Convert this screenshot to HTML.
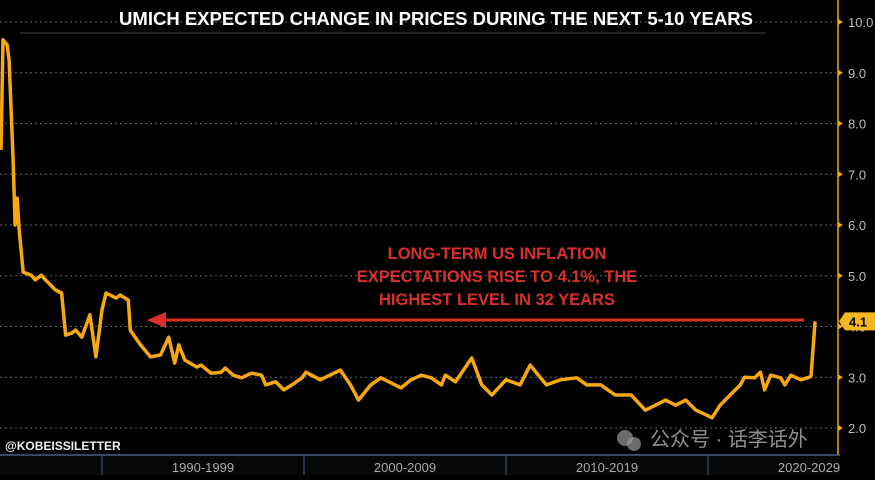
<!DOCTYPE html>
<html><head><meta charset="utf-8"><style>
body{margin:0;background:#000;width:875px;height:475px;overflow:hidden;font-family:"Liberation Sans","Noto Sans CJK SC",sans-serif}
</style></head><body>
<svg id="chart" width="875" height="475" xmlns="http://www.w3.org/2000/svg">
<rect width="875" height="475" fill="#000"/>
<g id="grid"></g>
<g id="yaxis"></g>
<g id="xaxis"></g>
<path id="series" fill="none" stroke="#f5a80f" stroke-width="3.5" stroke-linejoin="round"/>
<line x1="20" y1="33" x2="765" y2="33" stroke="#222" stroke-width="2"/>
<text x="436" y="25" fill="#fff" font-size="18.5" font-weight="bold" text-anchor="middle">UMICH EXPECTED CHANGE IN PRICES DURING THE NEXT 5-10 YEARS</text>
<g fill="#d9302c" font-size="16.5" font-weight="bold" text-anchor="middle">
<text x="497" y="259">LONG-TERM US INFLATION</text>
<text x="497" y="282">EXPECTATIONS RISE TO 4.1%, THE</text>
<text x="497" y="305">HIGHEST LEVEL IN 32 YEARS</text>
</g>
<line x1="160" y1="320" x2="804" y2="320" stroke="#d9302c" stroke-width="3"/>
<polygon points="147,320 166,312 166,328" fill="#d9302c"/>
<text x="5" y="450" fill="#eee" font-size="12" font-weight="bold">@KOBEISSILETTER</text>
<text x="650" y="446" fill="#aaa" font-size="20" opacity="0.85">公众号 · 话李话外</text>
<circle cx="625" cy="438" r="8" fill="#999" opacity="0.7"/><circle cx="634" cy="444" r="7" fill="#999" opacity="0.7"/>
</svg>
<script>
const years=[1985.0,1985.1,1985.3,1985.4,1985.6,1985.7,1985.8,1985.9,1986.1,1986.5,1986.7,1987.0,1987.2,1987.7,1988.0,1988.2,1988.5,1988.7,1989.0,1989.4,1989.7,1990.0,1990.2,1990.7,1990.9,1991.3,1991.4,1991.9,1992.4,1992.9,1993.3,1993.6,1993.8,1994.1,1994.7,1994.9,1995.4,1995.9,1996.1,1996.5,1996.9,1997.4,1997.9,1998.1,1998.6,1999.0,1999.4,1999.9,2000.1,2000.8,2001.8,2002.3,2002.7,2003.3,2003.8,2004.3,2004.8,2005.3,2005.8,2006.3,2006.8,2007.0,2007.5,2008.3,2008.8,2009.3,2010.0,2010.7,2011.2,2012.0,2012.7,2013.5,2014.0,2014.7,2015.4,2016.2,2016.9,2017.4,2017.9,2018.4,2018.9,2019.4,2019.9,2020.2,2020.6,2021.1,2021.6,2021.8,2022.3,2022.6,2022.8,2023.1,2023.6,2023.8,2024.1,2024.6,2025.0,2025.1,2025.3];
const values=[7.48,9.65,9.55,9.25,7.28,6.0,6.53,5.9,5.07,5.01,4.92,5.01,4.92,4.72,4.66,3.83,3.87,3.93,3.79,4.23,3.40,4.33,4.66,4.56,4.62,4.52,3.93,3.64,3.40,3.44,3.79,3.28,3.64,3.34,3.20,3.24,3.08,3.10,3.18,3.04,2.99,3.08,3.04,2.85,2.91,2.75,2.85,2.99,3.10,2.95,3.14,2.85,2.55,2.85,2.99,2.89,2.79,2.95,3.04,2.99,2.85,3.04,2.91,3.38,2.85,2.65,2.95,2.85,3.24,2.85,2.95,2.99,2.85,2.85,2.65,2.65,2.35,2.45,2.55,2.45,2.55,2.35,2.26,2.20,2.45,2.65,2.85,3.00,2.99,3.10,2.75,3.04,2.99,2.85,3.04,2.95,3.00,3.02,4.1];
const yTicks=[2,3,4,5,6,7,8,9,10];
const decadeLabels=["1990-1999","2000-2009","2010-2019","2020-2029"];
const decadeStarts=[1990,2000,2010,2020];
const xs=y=>708+(y-2020)*20.2;
const ys=v=>428-(v-2)*50.75;
const NS="http://www.w3.org/2000/svg";
const grid=document.getElementById('grid'),ya=document.getElementById('yaxis'),xa=document.getElementById('xaxis');
function mk(tag,attrs,parent){const e=document.createElementNS(NS,tag);for(const k in attrs)e.setAttribute(k,attrs[k]);parent.appendChild(e);return e;}
yTicks.forEach(t=>{
 const g=mk('line',{x1:0,x2:836,y1:ys(t),y2:ys(t),stroke:'#666','stroke-dasharray':'2,3','stroke-width':1},grid);
 
 
 const tk=mk('polygon',{points:`838,${ys(t)-3} 843,${ys(t)} 838,${ys(t)+3}`,fill:'#f5a80f'},ya);
 
 
 const lb=mk('text',{x:848,y:ys(t)+5,fill:'#bbb','font-size':13},ya);
 lb.textContent=t.toFixed(1);
 
 
});
const ax=mk('line',{x1:838,x2:838,y1:0,y2:455,stroke:'#f5a80f','stroke-width':1.5},ya);


const band=mk('rect',{x:0,y:455,width:840,height:20,fill:'#050608'},xa);


const bl=mk('line',{x1:0,x2:840,y1:455,y2:455,stroke:'#4a5f80','stroke-width':1.5},xa);


decadeStarts.forEach((d,i)=>{
 const s=mk('line',{x1:xs(d),x2:xs(d),y1:455,y2:475,stroke:'#4a5f80'},xa);
 
 
 const l=mk('text',{x:xs(d+5),y:472,fill:'#aaa','font-size':13,'text-anchor':'middle'},xa);
 l.textContent=decadeLabels[i];
 
 
});
document.getElementById('series').setAttribute('d',years.map((y,i)=>(i?'L':'M')+xs(y).toFixed(1)+','+ys(values[i]).toFixed(1)).join(''));
const last=values[values.length-1];
const tag=mk('polygon',{points:`839,${ys(last)} 845,${ys(last)-9} 875,${ys(last)-9} 875,${ys(last)+9} 845,${ys(last)+9}`,fill:'#f5b820'},ya);


const tt=mk('text',{x:849,y:ys(last)+5,fill:'#000','font-size':13,'font-weight':'bold'},ya);
tt.textContent=last.toFixed(1);


</script>
</body></html>
